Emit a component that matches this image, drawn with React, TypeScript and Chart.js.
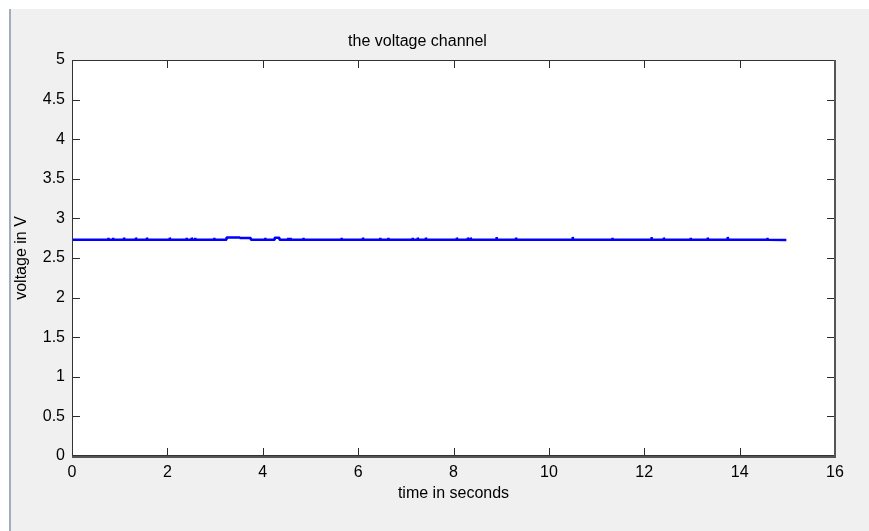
import React, { useEffect, useRef } from "react";
import { Chart, registerables } from "chart.js";

Chart.register(...registerables);

const chartTitle = "the voltage channel";
const xAxisTitle = "time in seconds";
const yAxisTitle = "voltage in V";

const xTickValues = [0, 2, 4, 6, 8, 10, 12, 14, 16];
const xTickLabels = ["0", "2", "4", "6", "8", "10", "12", "14", "16"];
const yTickValues = [0, 0.5, 1, 1.5, 2, 2.5, 3, 3.5, 4, 4.5, 5];
const yTickLabels = ["0", "0.5", "1", "1.5", "2", "2.5", "3", "3.5", "4", "4.5", "5"];

const timeSeconds = [
  0, 0.76, 0.76, 0.77, 0.86, 0.86, 0.87, 1.09, 1.09, 1.1, 1.34, 1.34, 1.35, 1.57, 1.57, 1.58,
  2.05, 2.05, 2.06, 2.4, 2.4, 2.41, 2.51, 2.51, 2.52, 2.58, 2.58, 2.59, 2.98, 2.98, 2.99,
  3.24, 3.24, 3.52, 3.52, 3.75, 3.75,
  4.05, 4.05, 4.06, 4.25, 4.25, 4.35, 4.35, 4.53, 4.53, 4.54, 4.58, 4.58, 4.59, 4.85, 4.85, 4.86,
  5.65, 5.65, 5.66, 6.1, 6.1, 6.11, 6.46, 6.46, 6.47, 6.63, 6.63, 6.64,
  7.14, 7.14, 7.15, 7.25, 7.25, 7.26, 7.42, 7.42, 7.43, 8.07, 8.07, 8.08, 8.3, 8.3, 8.31, 8.36, 8.36, 8.37,
  8.9, 8.9, 8.91, 9.31, 9.31, 9.32, 10.5, 10.5, 10.51, 11.33, 11.33, 11.34, 12.15, 12.15, 12.16,
  12.41, 12.41, 12.42, 12.97, 12.97, 12.98, 13.33, 13.33, 13.34, 13.75, 13.75, 13.76, 14.58, 14.58, 14.59, 14.98,
];

const voltageV = [
  2.73, 2.73, 2.757, 2.73, 2.73, 2.757, 2.73, 2.73, 2.757, 2.73, 2.73, 2.757, 2.73, 2.73, 2.757, 2.73,
  2.73, 2.757, 2.73, 2.73, 2.757, 2.73, 2.73, 2.757, 2.73, 2.73, 2.757, 2.73, 2.73, 2.757, 2.73,
  2.73, 2.76, 2.76, 2.752, 2.752, 2.73,
  2.73, 2.757, 2.73, 2.73, 2.755, 2.755, 2.73, 2.73, 2.757, 2.73, 2.73, 2.757, 2.73, 2.73, 2.757, 2.73,
  2.73, 2.757, 2.73, 2.73, 2.757, 2.73, 2.73, 2.757, 2.73, 2.73, 2.757, 2.73,
  2.73, 2.757, 2.73, 2.73, 2.757, 2.73, 2.73, 2.757, 2.73, 2.73, 2.757, 2.73, 2.73, 2.757, 2.73, 2.73, 2.757, 2.73,
  2.73, 2.765, 2.73, 2.73, 2.757, 2.73, 2.73, 2.765, 2.73, 2.73, 2.757, 2.73, 2.73, 2.765, 2.73,
  2.73, 2.757, 2.73, 2.73, 2.757, 2.73, 2.73, 2.757, 2.73, 2.73, 2.765, 2.73, 2.73, 2.757, 2.73, 2.728,
];

const FONT = "Arial, 'Liberation Sans', Helvetica, sans-serif";
const FS = 16;
const W = 869;
const H = 531;

const boxPlugin = {
  id: "matlabBox",
  beforeDraw(chart: any) {
    const { ctx, chartArea } = chart;
    ctx.save();
    ctx.fillStyle = "#ffffff";
    ctx.fillRect(chartArea.left, chartArea.top, chartArea.right - chartArea.left, chartArea.bottom - chartArea.top);
    ctx.restore();
  },
  afterDatasetsDraw(chart: any) {
    const { ctx, chartArea, scales } = chart;
    const { left, right, top, bottom } = chartArea;
    const tl = 8;
    ctx.save();
    ctx.strokeStyle = "#2b2b2b";
    ctx.lineWidth = 1;
    ctx.beginPath();
    for (const v of xTickValues) {
      const x = Math.round(scales.x.getPixelForValue(v)) + 0.5;
      ctx.moveTo(x, bottom);
      ctx.lineTo(x, bottom - tl);
      ctx.moveTo(x, top);
      ctx.lineTo(x, top + tl);
    }
    for (const v of yTickValues) {
      const y = Math.round(scales.y.getPixelForValue(v)) + 0.5;
      ctx.moveTo(left, y);
      ctx.lineTo(left + tl, y);
      ctx.moveTo(right, y);
      ctx.lineTo(right - tl, y);
    }
    ctx.stroke();
    ctx.strokeStyle = "#333333";
    ctx.lineWidth = 1;
    ctx.strokeRect(left + 0.5, top + 0.5, right - left - 1, bottom - top - 1);
    ctx.strokeStyle = "#555555";
    ctx.lineWidth = 2;
    ctx.beginPath();
    ctx.moveTo(right, top);
    ctx.lineTo(right, bottom + 1);
    ctx.lineTo(left, bottom + 1);
    ctx.stroke();
    ctx.restore();
  },
};

export default function App() {
  const canvasRef = useRef<HTMLCanvasElement | null>(null);

  useEffect(() => {
    const canvas = canvasRef.current;
    if (!canvas) return;
    const points = timeSeconds.map((t, i) => ({ x: t, y: voltageV[i] }));
    const chart = new Chart(canvas, {
      type: "line",
      data: {
        datasets: [
          {
            data: points,
            borderColor: "#0000ff",
            borderWidth: 2.5,
            borderJoinStyle: "bevel",
            borderCapStyle: "butt",
            pointRadius: 0,
            tension: 0,
            fill: false,
          },
        ],
      },
      options: {
        animation: false,
        responsive: false,
        maintainAspectRatio: false,
        events: [],
        layout: { padding: { left: 0, top: 0, right: 34, bottom: 0 } },
        plugins: {
          legend: { display: false },
          tooltip: { enabled: false },
          title: {
            display: true,
            text: chartTitle,
            color: "#000000",
            font: { family: FONT, size: FS, weight: "normal", lineHeight: 1.2 },
            padding: { top: 32, bottom: 8.8 },
          },
        },
        scales: {
          x: {
            type: "linear",
            min: 0,
            max: 16,
            afterFit(scale: any) {
              scale.height = 75;
            },
            afterBuildTicks(scale: any) {
              scale.ticks = xTickValues.map((v) => ({ value: v }));
            },
            ticks: {
              color: "#000000",
              font: { family: FONT, size: FS },
              padding: 7,
              maxRotation: 0,
              autoSkip: false,
              callback: (v: any) => {
                const i = xTickValues.indexOf(Number(v));
                return i >= 0 ? xTickLabels[i] : "";
              },
            },
            grid: { display: false, drawTicks: false },
            border: { display: false },
            title: {
              display: true,
              text: xAxisTitle,
              color: "#000000",
              font: { family: FONT, size: FS, lineHeight: 1.2 },
              padding: { top: 0, bottom: 28 },
            },
          },
          y: {
            type: "linear",
            min: 0,
            max: 5,
            afterFit(scale: any) {
              scale.width = 72;
            },
            afterBuildTicks(scale: any) {
              scale.ticks = yTickValues.map((v) => ({ value: v }));
            },
            ticks: {
              color: "#000000",
              font: { family: FONT, size: FS },
              padding: 7,
              autoSkip: false,
              callback: (v: any) => {
                const i = yTickValues.indexOf(Number(v));
                return i >= 0 ? yTickLabels[i] : "";
              },
            },
            grid: { display: false, drawTicks: false },
            border: { display: false },
            title: {
              display: true,
              text: yAxisTitle,
              color: "#000000",
              font: { family: FONT, size: FS, lineHeight: 1.2 },
              padding: { top: 12, bottom: 0 },
            },
          },
        },
      },
      plugins: [boxPlugin],
    } as any);
    return () => chart.destroy();
  }, []);

  return (
    <div style={{ position: "fixed", left: 0, top: 0, width: W, height: H, background: "#ffffff", overflow: "hidden" }}>
      <div
        style={{
          position: "absolute",
          left: 9,
          top: 9,
          width: W - 9,
          height: H - 9,
          background: "#f0f0f0",
          borderLeft: "2px solid #a3acbb",
          boxSizing: "border-box",
        }}
      />
      <canvas ref={canvasRef} width={W} height={H} style={{ position: "absolute", left: 0, top: 0, width: W, height: H }} />
    </div>
  );
}
